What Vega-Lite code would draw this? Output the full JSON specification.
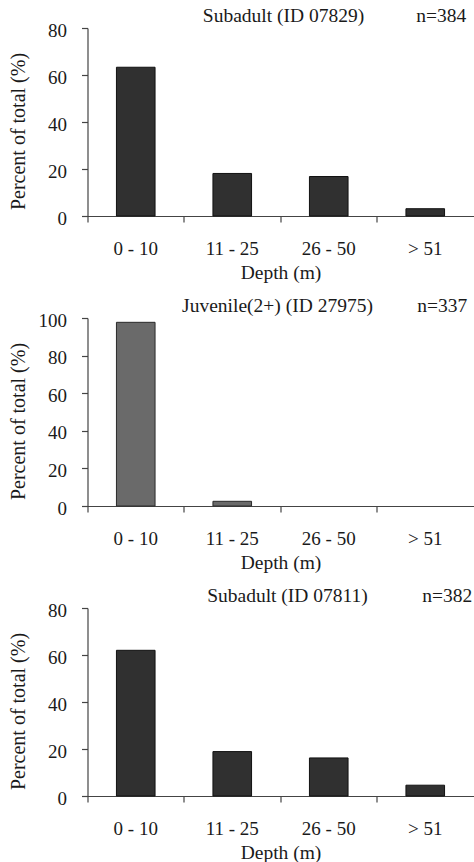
{
  "$schema": "https://vega.github.io/schema/vega-lite/v6.json",
  "background": "white",
  "padding": {"left": 7.5, "top": 6, "right": 0, "bottom": 0},
  "datasets": {
    "bars": [
      {"panel": "A", "depth": "0 - 10", "pct": 63.3},
      {"panel": "A", "depth": "11 - 25", "pct": 18.1},
      {"panel": "A", "depth": "26 - 50", "pct": 16.8},
      {"panel": "A", "depth": "> 51", "pct": 3.1},
      {"panel": "B", "depth": "0 - 10", "pct": 97.7},
      {"panel": "B", "depth": "11 - 25", "pct": 2.5},
      {"panel": "B", "depth": "26 - 50", "pct": 0},
      {"panel": "B", "depth": "> 51", "pct": 0},
      {"panel": "C", "depth": "0 - 10", "pct": 62.0},
      {"panel": "C", "depth": "11 - 25", "pct": 18.9},
      {"panel": "C", "depth": "26 - 50", "pct": 16.2},
      {"panel": "C", "depth": "> 51", "pct": 4.6}
    ],
    "labels": [
      {"panel": "A", "title": "Subadult (ID 07829)", "n": "n=384"},
      {"panel": "B", "title": "Juvenile(2+) (ID 27975)", "n": "n=337"},
      {"panel": "C", "title": "Subadult (ID 07811)", "n": "n=382"}
    ]
  },
  "vconcat": [
    {
      "width": 386,
      "height": 188,
      "layer": [
        {
          "data": {"name": "bars"},
          "transform": [{"filter": "datum.panel === 'A' && datum.pct > 0"}],
          "mark": {"type": "bar", "color": "#303030", "stroke": "#111111", "strokeWidth": 1},
          "encoding": {
            "x": {"field": "depth", "type": "nominal",
                  "scale": {"domain": ["0 - 10", "11 - 25", "26 - 50", "> 51"], "paddingInner": 0.6, "paddingOuter": 0.3},
                  "axis": {"title": "Depth (m)", "bandPosition": -0.75, "labelAngle": 0}},
            "y": {"field": "pct", "type": "quantitative",
                  "scale": {"domain": [0, 80], "nice": false},
                  "axis": {"title": "Percent of total (%)", "values": [0, 20, 40, 60, 80], "labelOverlap": false}}
          }
        },
        {
          "data": {"name": "labels"},
          "transform": [{"filter": "datum.panel === 'A'"}],
          "mark": {"type": "text", "align": "center", "baseline": "alphabetic", "dx": 3, "dy": -6, "fontSize": 19.5, "color": "#1a1a1a"},
          "encoding": {
            "x": {"datum": "26 - 50", "bandPosition": -0.75},
            "y": {"datum": 80},
            "text": {"field": "title"}
          }
        },
        {
          "data": {"name": "labels"},
          "transform": [{"filter": "datum.panel === 'A'"}],
          "mark": {"type": "text", "align": "right", "baseline": "alphabetic", "dx": 41, "dy": -6, "fontSize": 19.5, "color": "#1a1a1a"},
          "encoding": {
            "x": {"datum": "> 51"},
            "y": {"datum": 80},
            "text": {"field": "n"}
          }
        }
      ]
    },
    {
      "width": 386,
      "height": 188,
      "layer": [
        {
          "data": {"name": "bars"},
          "transform": [{"filter": "datum.panel === 'B' && datum.pct > 0"}],
          "mark": {"type": "bar", "color": "#6a6a6a", "stroke": "#2a2a2a", "strokeWidth": 1},
          "encoding": {
            "x": {"field": "depth", "type": "nominal",
                  "scale": {"domain": ["0 - 10", "11 - 25", "26 - 50", "> 51"], "paddingInner": 0.6, "paddingOuter": 0.3},
                  "axis": {"title": "Depth (m)", "bandPosition": -0.75, "labelAngle": 0}},
            "y": {"field": "pct", "type": "quantitative",
                  "scale": {"domain": [0, 100], "nice": false},
                  "axis": {"title": "Percent of total (%)", "values": [0, 20, 40, 60, 80, 100], "labelOverlap": false, "tickCount": 6}}
          }
        },
        {
          "data": {"name": "labels"},
          "transform": [{"filter": "datum.panel === 'B'"}],
          "mark": {"type": "text", "align": "center", "baseline": "alphabetic", "dx": -3, "dy": -6, "fontSize": 19.5, "color": "#1a1a1a"},
          "encoding": {
            "x": {"datum": "26 - 50", "bandPosition": -0.75},
            "y": {"datum": 100},
            "text": {"field": "title"}
          }
        },
        {
          "data": {"name": "labels"},
          "transform": [{"filter": "datum.panel === 'B'"}],
          "mark": {"type": "text", "align": "right", "baseline": "alphabetic", "dx": 42, "dy": -6, "fontSize": 19.5, "color": "#1a1a1a"},
          "encoding": {
            "x": {"datum": "> 51"},
            "y": {"datum": 100},
            "text": {"field": "n"}
          }
        }
      ]
    },
    {
      "width": 386,
      "height": 188,
      "layer": [
        {
          "data": {"name": "bars"},
          "transform": [{"filter": "datum.panel === 'C' && datum.pct > 0"}],
          "mark": {"type": "bar", "color": "#303030", "stroke": "#111111", "strokeWidth": 1},
          "encoding": {
            "x": {"field": "depth", "type": "nominal",
                  "scale": {"domain": ["0 - 10", "11 - 25", "26 - 50", "> 51"], "paddingInner": 0.6, "paddingOuter": 0.3},
                  "axis": {"title": "Depth (m)", "bandPosition": -0.75, "labelAngle": 0}},
            "y": {"field": "pct", "type": "quantitative",
                  "scale": {"domain": [0, 80], "nice": false},
                  "axis": {"title": "Percent of total (%)", "values": [0, 20, 40, 60, 80], "labelOverlap": false}}
          }
        },
        {
          "data": {"name": "labels"},
          "transform": [{"filter": "datum.panel === 'C'"}],
          "mark": {"type": "text", "align": "center", "baseline": "alphabetic", "dx": 7, "dy": -6, "fontSize": 19.5, "color": "#1a1a1a"},
          "encoding": {
            "x": {"datum": "26 - 50", "bandPosition": -0.75},
            "y": {"datum": 80},
            "text": {"field": "title"}
          }
        },
        {
          "data": {"name": "labels"},
          "transform": [{"filter": "datum.panel === 'C'"}],
          "mark": {"type": "text", "align": "right", "baseline": "alphabetic", "dx": 47, "dy": -6, "fontSize": 19.5, "color": "#1a1a1a"},
          "encoding": {
            "x": {"datum": "> 51"},
            "y": {"datum": 80},
            "text": {"field": "n"}
          }
        }
      ]
    }
  ],
  "spacing": 102,
  "bounds": "flush",
  "config": {
    "font": "Liberation Serif",
    "view": {"stroke": null},
    "text": {"font": "Liberation Serif"},
    "axis": {
      "labelFont": "Liberation Serif", "titleFont": "Liberation Serif",
      "labelFontSize": 19, "titleFontSize": 19.5, "titleFontWeight": "normal",
      "labelColor": "#1a1a1a", "titleColor": "#1a1a1a",
      "domainColor": "#444444", "tickColor": "#444444", "domainWidth": 1.2, "tickWidth": 1.2,
      "tickSize": 6, "grid": false,
      "labelOverlap": false, "labelBound": false, "labelFlush": false
    },
    "axisX": {"labelPadding": 17, "titlePadding": 5},
    "axisY": {"labelPadding": 15, "titleAngle": -90, "titleBaseline": "middle", "titleX": -69, "titleY": 103, "titleFontSize": 20, "labelOffset": 2}
  }
}
